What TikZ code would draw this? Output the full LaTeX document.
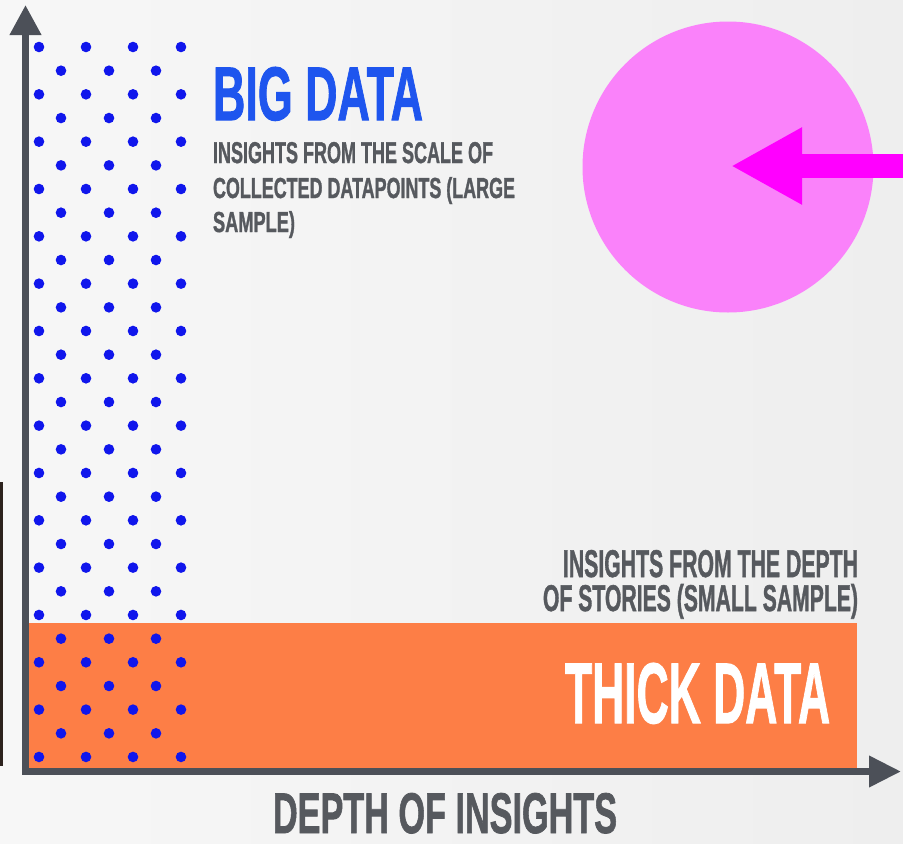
\documentclass[tikz,border=0pt]{standalone}
\usepackage{fontspec}
\setmainfont{Liberation Sans}[BoldFeatures={FakeBold=1.5}]
\usetikzlibrary{arrows.meta}
\definecolor{bgl}{RGB}{247,247,247}
\definecolor{bgr}{RGB}{238,238,238}
\definecolor{axisgray}{RGB}{76,80,88}
\definecolor{txtgray}{RGB}{86,89,94}
\definecolor{bigblue}{RGB}{30,85,238}
\definecolor{dotblue}{RGB}{16,22,236}
\definecolor{thickorange}{RGB}{253,126,70}
\definecolor{pinkfill}{RGB}{250,130,250}
\definecolor{magentaarrow}{RGB}{255,0,255}
\definecolor{stripdark}{RGB}{45,35,30}
\newcommand\fitline[3]{\resizebox{#1pt}{#2pt}{\bfseries #3}}
\begin{document}
\begin{tikzpicture}[x=1pt,y=-1pt,
  lbl/.style={inner sep=0pt, outer sep=0pt, text=txtgray},
  dotfill/.style={fill=dotblue},
  axisline/.style={draw=axisgray, line width=7pt, line join=miter,
    {Triangle[length=30pt,width=30pt]}-{Triangle[length=32pt,width=30pt]}}]
\useasboundingbox (0,0) rectangle (903,844);
% background
\shade[left color=bgl, right color=bgr] (0,0) rectangle (903,844);
% dark strip at left edge
\fill[stripdark] (0,482) rectangle (2.5,766);
% thick data band
\fill[thickorange] (29,623) rectangle (857,768);
% dots
\foreach \i in {0,...,15}{
  \foreach \x in {39,86,133,181}{
    \fill[dotfill] (\x,47+47.33*\i) circle[radius=5.3pt];
  }
}
\foreach \i in {0,...,14}{
  \foreach \x in {61,109,156}{
    \fill[dotfill] (\x,70.7+47.33*\i) circle[radius=5.3pt];
  }
}
% axes
\coordinate (ytop) at (25.5,5);
\coordinate (origin) at (25.5,771.5);
\coordinate (xend) at (901,771.5);
\draw[axisline] (ytop) -- (origin) -- (xend);
% pink circle and arrow
\node[circle, fill=pinkfill, minimum size=291pt, inner sep=0pt] (pink) at (728,167) {};
\coordinate (arrstart) at (903,166);
\coordinate (arrtip) at (731,166);
\draw[magentaarrow, line width=24pt, -{Triangle[length=71pt,width=72pt]}] (arrstart) -- (arrtip);
% texts
\node[lbl, text=bigblue, anchor=base west] (bigdata) at (213,120) {\fitline{210}{53}{BIG DATA}};
\node[lbl, anchor=base west] (bd1) at (213,163) {\fitline{280}{21}{INSIGHTS FROM THE SCALE OF}};
\node[lbl, anchor=base west] (bd2) at (213,198) {\fitline{302}{21}{COLLECTED DATAPOINTS (LARGE}};
\node[lbl, anchor=base west] (bd3) at (213,232) {\fitline{82}{21}{SAMPLE)}};
\node[lbl, anchor=base east] (td1) at (858,577) {\fitline{295}{27}{INSIGHTS FROM THE DEPTH}};
\node[lbl, anchor=base east] (td2) at (858,611) {\fitline{315}{27}{OF STORIES (SMALL SAMPLE)}};
\node[lbl, text=white, anchor=base west] (thick) at (565,723) {\fitline{265}{60}{THICK DATA}};
\node[lbl, anchor=base west] (xlabel) at (273,833) {\fitline{344}{40}{DEPTH OF INSIGHTS}};
\end{tikzpicture}
\end{document}
